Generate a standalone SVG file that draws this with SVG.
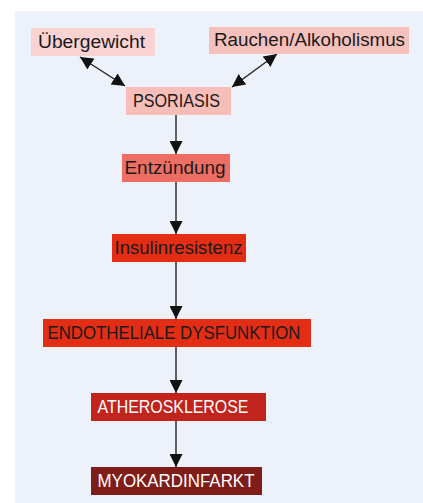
<svg xmlns="http://www.w3.org/2000/svg" width="423" height="503" viewBox="0 0 423 503">
<defs>
<marker id="ah" viewBox="0 0 12 12" refX="12" refY="6" markerWidth="13" markerHeight="13" markerUnits="userSpaceOnUse" orient="auto-start-reverse">
<path d="M0,0 L12,6 L0,12 z" fill="#111"/>
</marker>
<style>
text{font-family:"Liberation Sans",Arial,sans-serif;font-size:18px;fill:#1a1a1a}
.w{fill:#ffffff}
.c{stroke:#222;stroke-width:1.4;fill:none;marker-end:url(#ah)}
.d{marker-start:url(#ah)}
</style>
</defs>
<rect x="0" y="0" width="423" height="503" fill="#ffffff"/>
<rect x="15" y="11" width="408" height="492" fill="#edf1f9"/>
<g id="connectors">
<line class="c d" x1="80" y1="57" x2="125" y2="86"/>
<line class="c d" x1="277" y1="54" x2="232" y2="87"/>
<line class="c" x1="176" y1="115" x2="176" y2="154"/>
<line class="c" x1="176" y1="182" x2="176" y2="234"/>
<line class="c" x1="176" y1="262" x2="176" y2="319"/>
<line class="c" x1="176" y1="347" x2="176" y2="393"/>
<line class="c" x1="176" y1="421" x2="176" y2="467"/>
</g>
<g id="uebergewicht">
<rect x="31" y="28" width="124" height="28" fill="#f8d3d2"/>
<text x="38" y="47.5" textLength="107" lengthAdjust="spacingAndGlyphs">Übergewicht</text>
</g>
<g id="rauchen">
<rect x="209" y="27" width="200" height="27" fill="#f6c1bd"/>
<text x="214" y="46" textLength="191" lengthAdjust="spacingAndGlyphs">Rauchen/Alkoholismus</text>
</g>
<g id="psoriasis">
<rect x="126" y="87" width="105" height="28" fill="#f6bdb9"/>
<text x="133" y="106.5" textLength="87" lengthAdjust="spacingAndGlyphs">PSORIASIS</text>
</g>
<g id="entzuendung">
<rect x="122" y="154" width="108" height="28" fill="#ef6e63"/>
<text x="124.5" y="174" textLength="101" lengthAdjust="spacingAndGlyphs">Entzündung</text>
</g>
<g id="insulinresistenz">
<rect x="112" y="234" width="134" height="28" fill="#e32e15"/>
<text x="114.5" y="253.5" textLength="128" lengthAdjust="spacingAndGlyphs">Insulinresistenz</text>
</g>
<g id="endothel">
<rect x="43" y="319" width="268" height="28" fill="#e32e15"/>
<text x="47.5" y="338.5" textLength="253" lengthAdjust="spacingAndGlyphs">ENDOTHELIALE DYSFUNKTION</text>
</g>
<g id="atherosklerose">
<rect x="91" y="393" width="175" height="28" fill="#c0241d"/>
<text class="w" x="97.5" y="412.5" textLength="151" lengthAdjust="spacingAndGlyphs">ATHEROSKLEROSE</text>
</g>
<g id="myokardinfarkt">
<rect x="91" y="467" width="171" height="28" fill="#7f1d18"/>
<text class="w" x="97.5" y="486.5" textLength="157" lengthAdjust="spacingAndGlyphs">MYOKARDINFARKT</text>
</g>
</svg>
